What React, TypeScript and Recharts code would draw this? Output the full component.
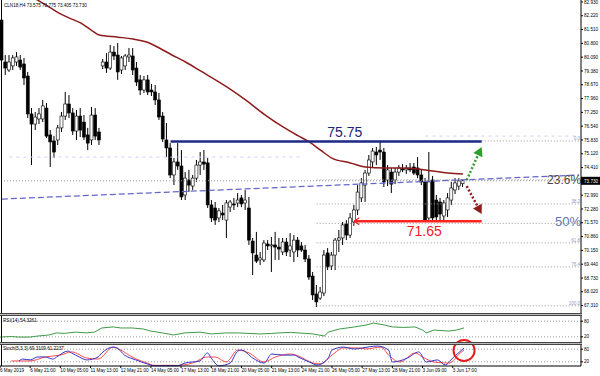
import React from 'react';
import { Bar, ComposedChart, Line, ReferenceDot, ReferenceLine, XAxis, YAxis } from 'recharts';

const FONT = '"Liberation Sans", Arial, sans-serif';
const SLOTS = 155;

// H4 candles, bar 0 = first bar on the left
const open = [
  82.0, 79.84, 79.43, 79.64, 79.84, 79.94, 79.74, 79.12, 77.17, 76.65, 76.91, 76.91, 77.47, 76.09, 75.78, 75.83,
  76.45, 77.06, 77.68, 77.22, 76.29, 77.06, 76.75, 76.09, 75.83, 77.11, 76.24, 79.64, 79.84, 79.53, 80.35, 80.2,
  79.43, 79.64, 80.1, 80.15, 79.53, 78.92, 78.4, 78.92, 78.4, 78.3, 77.89, 77.06, 75.83, 75.42, 74.03, 74.7,
  74.49, 73.0, 73.77, 73.46, 73.87, 74.54, 74.7, 74.65, 72.49, 72.33, 71.82, 72.07, 71.71, 72.38, 72.54, 72.59,
  72.85, 72.59, 72.33, 70.63, 69.91, 69.66, 69.66, 70.48, 70.38, 70.43, 70.32, 70.07, 70.58, 70.17, 70.07, 70.68,
  70.38, 70.17, 69.71, 68.83, 67.91, 67.7, 67.96, 70.02, 69.35, 69.91, 70.68, 70.79, 71.51, 70.94, 71.61, 72.23,
  72.85, 73.51, 74.13, 74.7, 75.21, 75.31, 75.21, 73.77, 74.18, 73.77, 74.18, 74.34, 74.29, 74.39, 74.44, 74.39,
  74.03, 73.67, 71.82, 73.77, 72.74, 72.64, 71.92, 72.23, 72.74, 73.26, 73.46, 73.58,
];
const high = [
  82.41, 80.2, 80.2, 80.2, 80.35, 80.2, 80.05, 79.33, 77.47, 77.27, 77.47, 77.89, 77.73, 76.34, 76.03, 76.6,
  77.27, 78.3, 78.14, 77.47, 77.37, 77.47, 77.11, 76.45, 77.53, 77.47, 76.45, 80.0, 80.3, 80.72, 80.66, 80.82,
  80.15, 80.25, 80.56, 80.56, 79.84, 79.17, 79.12, 79.17, 78.71, 78.66, 78.25, 77.27, 76.7, 75.67, 74.9, 75.67,
  75.31, 74.18, 74.29, 74.03, 74.8, 75.21, 75.31, 74.9, 72.74, 72.64, 72.33, 72.49, 72.74, 72.74, 72.85, 73.1,
  73.0, 73.26, 72.9, 70.79, 71.1, 70.07, 70.68, 70.68, 70.84, 71.1, 70.79, 70.79, 70.79, 71.04, 70.94, 70.84,
  70.58, 70.43, 69.91, 69.04, 68.37, 68.27, 70.17, 70.27, 70.07, 70.79, 71.2, 71.61, 71.71, 72.07, 72.49, 73.51,
  73.87, 74.29, 75.06, 75.42, 75.47, 75.78, 75.42, 74.54, 74.39, 74.39, 74.54, 74.59, 74.54, 74.65, 74.65, 74.95,
  74.29, 73.87, 75.21, 73.98, 73.0, 72.85, 72.74, 73.1, 73.67, 73.87, 73.87, 73.78,
];
const low = [
  79.17, 79.17, 79.33, 79.43, 79.64, 79.43, 78.66, 76.96, 74.54, 76.34, 76.65, 76.75, 75.93, 74.44, 74.9, 75.57,
  76.24, 76.86, 76.96, 76.09, 75.83, 75.98, 75.83, 75.31, 75.57, 75.83, 75.57, 79.48, 79.28, 79.43, 79.94, 78.92,
  79.22, 79.43, 79.84, 79.17, 78.61, 78.14, 78.25, 78.14, 78.09, 77.63, 76.86, 75.73, 74.95, 73.87, 73.51, 74.29,
  72.74, 72.74, 73.15, 73.26, 73.67, 74.03, 74.29, 72.33, 71.61, 71.46, 71.61, 71.71, 70.79, 72.12, 72.23, 72.38,
  72.38, 72.23, 70.43, 68.88, 69.5, 69.4, 69.55, 70.17, 69.04, 69.66, 69.66, 69.91, 69.86, 69.81, 69.55, 69.81,
  70.07, 69.55, 68.63, 67.6, 67.24, 67.6, 67.8, 69.14, 69.14, 69.14, 70.07, 70.43, 70.68, 70.79, 71.41, 71.97,
  72.64, 72.64, 73.98, 74.39, 74.54, 74.8, 73.41, 73.46, 73.1, 73.56, 73.98, 74.18, 74.08, 74.18, 74.03, 73.87,
  73.51, 71.61, 71.61, 71.66, 71.66, 71.71, 71.71, 71.87, 72.49, 73.05, 73.26, 73.41,
];
const close = [
  79.94, 79.53, 79.84, 80.05, 80.1, 79.58, 79.02, 77.17, 76.65, 77.01, 77.17, 77.58, 76.03, 75.73, 75.21, 76.45,
  77.06, 77.68, 77.22, 76.29, 77.06, 76.34, 75.98, 75.67, 77.11, 76.03, 75.83, 79.84, 79.53, 80.35, 80.15, 79.33,
  80.05, 80.15, 80.2, 79.43, 78.81, 78.4, 78.92, 78.3, 78.3, 77.89, 77.01, 75.88, 75.42, 74.03, 74.7, 74.49,
  72.9, 73.87, 73.51, 73.87, 74.54, 74.7, 74.59, 72.49, 71.82, 71.71, 72.18, 71.97, 72.59, 72.64, 72.49, 72.74,
  72.54, 72.74, 70.68, 70.02, 69.6, 69.76, 70.53, 70.38, 70.43, 70.32, 70.22, 70.58, 70.07, 70.38, 70.68, 70.17,
  70.17, 69.71, 68.78, 67.86, 67.5, 68.01, 69.91, 69.3, 69.91, 70.68, 70.79, 71.46, 70.94, 71.82, 72.23, 73.15,
  73.62, 74.13, 74.8, 75.26, 75.06, 75.21, 73.67, 74.29, 73.56, 74.18, 74.39, 74.29, 74.39, 74.29, 74.13, 74.03,
  73.67, 71.71, 73.67, 71.82, 71.87, 72.02, 72.59, 72.85, 73.36, 73.62, 73.72, 73.73,
];

// moving average, read at a few bars
const maBar = [8, 13, 15, 18, 21, 24, 26, 31, 35, 39, 42, 45, 49, 53, 60, 65, 70, 75, 79, 82, 85, 88, 93, 97, 102, 106, 111, 115, 119, 123];
const maValue = [83.2, 82.62, 82.38, 82.1, 81.85, 81.46, 81.23, 81.12, 81.02, 80.84, 80.56, 80.24, 79.84, 79.38, 78.56, 77.89, 77.15, 76.5, 76.05, 75.73, 75.31, 74.9, 74.65, 74.44, 74.39, 74.39, 74.34, 74.23, 74.13, 74.08];

// RSI(14)
const rsiBar = [0, 3, 5, 8, 10, 13, 15, 17, 20, 23, 25, 27, 30, 32, 35, 38, 40, 43, 46, 49, 53, 56, 60, 63, 66, 69, 72, 74, 77, 79, 83, 86, 87, 90, 94, 97, 99, 102, 104, 107, 110, 112, 113, 115, 119, 121, 123];
const rsiValue = [19, 21, 19, 19, 23, 27, 35, 33, 38, 35, 38, 54, 58, 54, 54, 50, 42, 35, 27, 35, 38, 31, 35, 35, 33, 31, 33, 35, 37, 35, 31, 23, 38, 50, 58, 65, 73, 65, 58, 56, 58, 46, 35, 46, 42, 46, 54.3];

// Stochastic main / signal
const kBar = [5, 6, 8, 10, 12, 14, 15, 18, 19, 21, 23, 26, 27, 30, 31, 33, 36, 39, 41, 44, 47, 49, 53, 55, 56, 58, 61, 63, 64, 67, 70, 72, 75, 78, 79, 82, 84, 87, 88, 91, 94, 96, 100, 103, 104, 108, 111, 113, 116, 118, 120, 123];
const kValue = [24, 33, 29, 43, 43, 33, 43, 71, 62, 43, 29, 43, 62, 90, 86, 52, 29, 10, 1, 1, 1, 14, 24, 62, 38, 1, 14, 71, 76, 38, 14, 57, 52, 52, 43, 19, 5, 38, 76, 90, 81, 86, 95, 76, 19, 38, 67, 19, 29, 5, 38, 86];
const dBar = [3, 8, 12, 16, 19, 23, 26, 30, 32, 35, 39, 41, 47, 51, 55, 57, 60, 63, 66, 70, 73, 77, 79, 83, 85, 88, 91, 95, 97, 101, 103, 106, 110, 112, 115, 119, 122, 123];
const dValue = [24, 24, 43, 52, 67, 38, 33, 90, 76, 43, 14, 3, 3, 14, 43, 43, 19, 76, 62, 19, 43, 57, 48, 14, 10, 52, 86, 86, 81, 90, 52, 19, 62, 43, 19, 14, 62, 76];

const priceTicks = [67.31, 68.02, 68.73, 69.44, 70.15, 70.86, 71.57, 72.28, 72.99, 74.41, 75.12, 75.83, 76.54, 77.25, 77.96, 78.67, 79.38, 80.09, 80.8, 81.51, 82.22, 82.93];
const timeTickBars = [0, 8, 16, 24, 32, 40, 48, 56, 64, 72, 80, 88, 96, 104, 112, 120];
const timeLabels = [
  '6 May 2019', '6 May 21:00', '10 May 05:00', '11 May 13:00', '12 May 21:00', '14 May 05:00', '17 May 13:00', '18 May 21:00',
  '20 May 05:00', '21 May 13:00', '24 May 21:00', '26 May 05:00', '27 May 13:00', '28 May 21:00', '3 Jun 09:00', '3 Jun 17:00',
];

// drawn objects
const fibLevels = [0, 23.6, 38.2, 50, 61.8, 76.4, 100];
const fibBigLabels = [23.6, 50];
const fibHigh = 75.78;
const fibLow = 67.3;
const fibStartBar = 84;
const resistance = 75.75;
const resistanceBars = [45, 128];
const support = 71.65;
const supportBars = [94, 128];
const trendBars = [0, 154];
const trendPrices = [72.79, 74.03];
const upArrow = [[124, 73.77], [128, 75.47]];
const downArrow = [[124, 73.46], [128, 72.02]];
const lastPrice = 73.73;

const fibPrice = (lv: number) => fibHigh - ((fibHigh - fibLow) * lv) / 100;

const at = (bars: number[], vals: number[], i: number) => {
  const k = bars.indexOf(i);
  return k < 0 ? null : vals[k];
};

const rows = Array.from({ length: SLOTS }, (_, i) => ({
  i,
  open: i < open.length ? open[i] : null,
  high: i < open.length ? high[i] : null,
  low: i < open.length ? low[i] : null,
  close: i < open.length ? close[i] : null,
  ma: at(maBar, maValue, i),
  rsi: at(rsiBar, rsiValue, i),
  k: at(kBar, kValue, i),
  d: at(dBar, dValue, i),
}));

function Candle(props: any) {
  const { x, y, width, height, payload } = props;
  if (!payload || payload.open == null) return <g />;
  const { open: o, close: c, high: h, low: l } = payload;
  const span = h - l || 1;
  const toY = (v: number) => y + ((h - v) / span) * height;
  const cx = x + width / 2;
  const top = toY(Math.max(o, c));
  const bot = toY(Math.min(o, c));
  const bull = c >= o;
  return (
    <g>
      <line x1={cx} x2={cx} y1={y} y2={y + height} stroke="#000" strokeWidth={1} />
      <rect x={x} y={top} width={width} height={Math.max(bot - top, 1)} fill={bull ? '#fff' : '#000'} stroke="#000" strokeWidth={0.6} />
    </g>
  );
}

const arrowShape = (color: string) => (p: any) => {
  const { x1, y1, x2, y2 } = p;
  const dx = x2 - x1;
  const dy = y2 - y1;
  const len = Math.hypot(dx, dy) || 1;
  const ux = dx / len;
  const uy = dy / len;
  const bx = x2 - ux * 9;
  const by = y2 - uy * 9;
  const nx = -uy * 5;
  const ny = ux * 5;
  return (
    <g>
      <line x1={x1} y1={y1} x2={bx} y2={by} stroke={color} strokeWidth={2.5} strokeDasharray="2 2" />
      <polygon points={`${x2},${y2} ${bx + nx},${by + ny} ${bx - nx},${by - ny}`} fill={color} />
    </g>
  );
};

const supportShape = (p: any) => {
  const { x1, y1, x2, y2 } = p;
  return (
    <g>
      <line x1={x1} y1={y1} x2={x2} y2={y2} stroke="#f22" strokeWidth={2.5} />
      <polyline points={`${x1 + 5},${y1 - 3.5} ${x1},${y1} ${x1 + 5},${y1 + 3.5}`} fill="none" stroke="#f22" strokeWidth={1.2} />
    </g>
  );
};

const smallTick = { fontSize: 4.6, fill: '#000', fontFamily: FONT };

export default function App() {
  return (
    <div style={{ position: 'relative', width: 600, height: 376, background: '#fff', overflow: 'hidden', fontFamily: FONT }}>
      <style>{'body{margin:0}'}</style>

      <div style={{ position: 'absolute', left: 0, top: 0 }}>
        <ComposedChart width={600} height={313} data={rows} margin={{ top: 0, right: 0, bottom: 0, left: 0 }}>
          <XAxis dataKey="i" hide />
          <YAxis
            orientation="right"
            width={19}
            domain={[66.93, 83.03]}
            allowDataOverflow
            ticks={priceTicks}
            interval={0}
            tickFormatter={(v: number) => v.toFixed(3)}
            tick={smallTick}
            tickSize={2}
            tickMargin={1}
            axisLine={{ stroke: '#000' }}
            tickLine={{ stroke: '#000' }}
          />
          <ReferenceLine segment={[{ x: 2, y: 74.95 }, { x: 80, y: 74.95 }]} stroke="#cfd0f2" strokeDasharray="3 4" />
          <ReferenceLine segment={[{ x: 113, y: 76.03 }, { x: 154, y: 76.03 }]} stroke="#cfd0f2" strokeDasharray="3 4" />
          {fibLevels.map((lv) => (
            <ReferenceLine
              key={lv}
              segment={[{ x: fibStartBar, y: fibPrice(lv) }, { x: 154, y: fibPrice(lv) }]}
              stroke="#9a9a9a"
              strokeDasharray="1 2"
              label={(p: any) =>
                fibBigLabels.includes(lv) ? (
                  <g />
                ) : (
                  <text x={p.viewBox.x + p.viewBox.width + 1} y={p.viewBox.y - 1} textAnchor="end" fontSize={4.6} fill="#8a9cc0" fontFamily={FONT}>
                    {lv.toFixed(1)}
                  </text>
                )
              }
            />
          ))}
          <ReferenceLine
            y={lastPrice}
            stroke="#9a9a9a"
            strokeDasharray="1 2"
            label={(p: any) => {
              const x = p.viewBox.x + p.viewBox.width;
              return (
                <g>
                  <rect x={x} y={p.viewBox.y - 4} width={19} height={8} fill="#000" />
                  <text x={x + 3} y={p.viewBox.y + 1.8} fontSize={4.6} fill="#fff" fontFamily={FONT}>
                    {lastPrice.toFixed(3)}
                  </text>
                </g>
              );
            }}
          />
          <ReferenceLine
            segment={[{ x: trendBars[0], y: trendPrices[0] }, { x: trendBars[1], y: trendPrices[1] }]}
            stroke="#6565cc"
            strokeWidth={1.3}
            strokeDasharray="6 3"
          />
          <Bar dataKey={(d: any) => (d.open == null ? null : [d.low, d.high])} barSize={3} shape={(p: any) => <Candle {...p} />} isAnimationActive={false} />
          <Line dataKey="ma" type="monotone" connectNulls stroke="#8e1b1b" strokeWidth={1.5} dot={false} isAnimationActive={false} />
          <ReferenceLine
            segment={[{ x: resistanceBars[0], y: resistance }, { x: resistanceBars[1], y: resistance }]}
            stroke="#1e2886"
            strokeWidth={2.6}
            label={(p: any) => (
              <text x={p.viewBox.x + p.viewBox.width * 0.56} y={p.viewBox.y - 5} textAnchor="middle" fontSize={14} fill="#1b237a" fontFamily={FONT}>
                {resistance.toFixed(2)}
              </text>
            )}
          />
          <ReferenceLine
            segment={[{ x: supportBars[0], y: support }, { x: supportBars[1], y: support }]}
            shape={supportShape}
            label={(p: any) => (
              <text x={p.viewBox.x + p.viewBox.width * 0.55} y={p.viewBox.y + 15} textAnchor="middle" fontSize={14} fill="#ee1c1c" fontFamily={FONT}>
                {support.toFixed(2)}
              </text>
            )}
          />
          <ReferenceLine segment={[{ x: upArrow[0][0], y: upArrow[0][1] }, { x: upArrow[1][0], y: upArrow[1][1] }]} shape={arrowShape('#2f9e2f')} />
          <ReferenceLine segment={[{ x: downArrow[0][0], y: downArrow[0][1] }, { x: downArrow[1][0], y: downArrow[1][1] }]} shape={arrowShape('#8e1b1b')} />
          <ReferenceLine
            segment={[{ x: 140, y: fibPrice(23.6) }, { x: 154, y: fibPrice(23.6) }]}
            stroke="none"
            label={(p: any) => (
              <text x={p.viewBox.x + p.viewBox.width + 2} y={p.viewBox.y + 4} textAnchor="end" fontSize={12} fill="#4a4a4a" fontFamily={FONT}>
                23.6%
              </text>
            )}
          />
          <ReferenceLine
            segment={[{ x: 140, y: fibPrice(50) }, { x: 154, y: fibPrice(50) }]}
            stroke="none"
            label={(p: any) => (
              <text x={p.viewBox.x + p.viewBox.width + 2} y={p.viewBox.y + 3} textAnchor="end" fontSize={13} fill="#5a78b2" fontFamily={FONT}>
                50%
              </text>
            )}
          />
        </ComposedChart>
      </div>

      <div style={{ position: 'absolute', left: 0, top: 316 }}>
        <ComposedChart width={600} height={26} data={rows} margin={{ top: 0, right: 0, bottom: 0, left: 0 }}>
          <XAxis dataKey="i" hide />
          <YAxis
            orientation="right"
            width={19}
            domain={[0, 100]}
            ticks={[80, 20]}
            interval={0}
            tick={smallTick}
            tickSize={2}
            tickMargin={1}
            axisLine={{ stroke: '#000' }}
            tickLine={{ stroke: '#000' }}
          />
          <ReferenceLine y={80} stroke="#9a9a9a" strokeDasharray="1 2" />
          <ReferenceLine y={20} stroke="#9a9a9a" strokeDasharray="1 2" />
          <Line dataKey="rsi" type="linear" connectNulls stroke="#3f9a46" strokeWidth={1} dot={false} isAnimationActive={false} />
        </ComposedChart>
      </div>

      <div style={{ position: 'absolute', left: 0, top: 336 }}>
        <ComposedChart width={600} height={40} data={rows} margin={{ top: 9, right: 0, bottom: 0, left: 0 }}>
          <XAxis
            dataKey="i"
            height={10}
            ticks={timeTickBars}
            interval={0}
            tickFormatter={(v: number) => timeLabels[timeTickBars.indexOf(v)] ?? ''}
            tick={{ ...smallTick, textAnchor: 'start' }}
            tickSize={2}
            tickMargin={1}
            axisLine={{ stroke: '#000' }}
            tickLine={{ stroke: '#000' }}
          />
          <YAxis
            orientation="right"
            width={19}
            domain={[0, 100]}
            ticks={[80, 20]}
            interval={0}
            tick={smallTick}
            tickSize={2}
            tickMargin={1}
            axisLine={{ stroke: '#000' }}
            tickLine={{ stroke: '#000' }}
          />
          <ReferenceLine y={80} stroke="#9a9a9a" strokeDasharray="1 2" />
          <ReferenceLine y={20} stroke="#9a9a9a" strokeDasharray="1 2" />
          <Line dataKey="d" type="monotone" connectNulls stroke="#ff4a4a" strokeWidth={1} dot={false} isAnimationActive={false} />
          <Line dataKey="k" type="monotone" connectNulls stroke="#3434c8" strokeWidth={1} dot={false} isAnimationActive={false} />
          <ReferenceDot x={123} y={74} r={10.5} fill="none" stroke="#e51c1c" strokeWidth={2} />
        </ComposedChart>
      </div>

      {/* window frame and panel separators */}
      <div style={{ position: 'absolute', left: 1, top: 0, width: 1, height: 366, background: '#000' }} />
      <div style={{ position: 'absolute', left: 0, top: 313, width: 582, height: 1, borderTop: '1px solid #444', borderBottom: '1px solid #444', background: '#bbb' }} />
      <div style={{ position: 'absolute', left: 0, top: 342, width: 582, height: 1, borderTop: '1px solid #444', borderBottom: '1px solid #444', background: '#bbb' }} />

      <svg width={600} height={376} style={{ position: 'absolute', left: 0, top: 0, pointerEvents: 'none' }}>
        <text x={4} y={7} fontSize={4.6} fill="#000" fontFamily={FONT}>CLN18,H4  73.575 73.775 73.405 73.730</text>
        <text x={3} y={322} fontSize={4.6} fill="#000" fontFamily={FONT}>RSI(14) 54.3261</text>
        <text x={3} y={350} fontSize={4.6} fill="#000" fontFamily={FONT}>Stoch(5,3,3) 69.3109 61.2237</text>
      </svg>
    </div>
  );
}
